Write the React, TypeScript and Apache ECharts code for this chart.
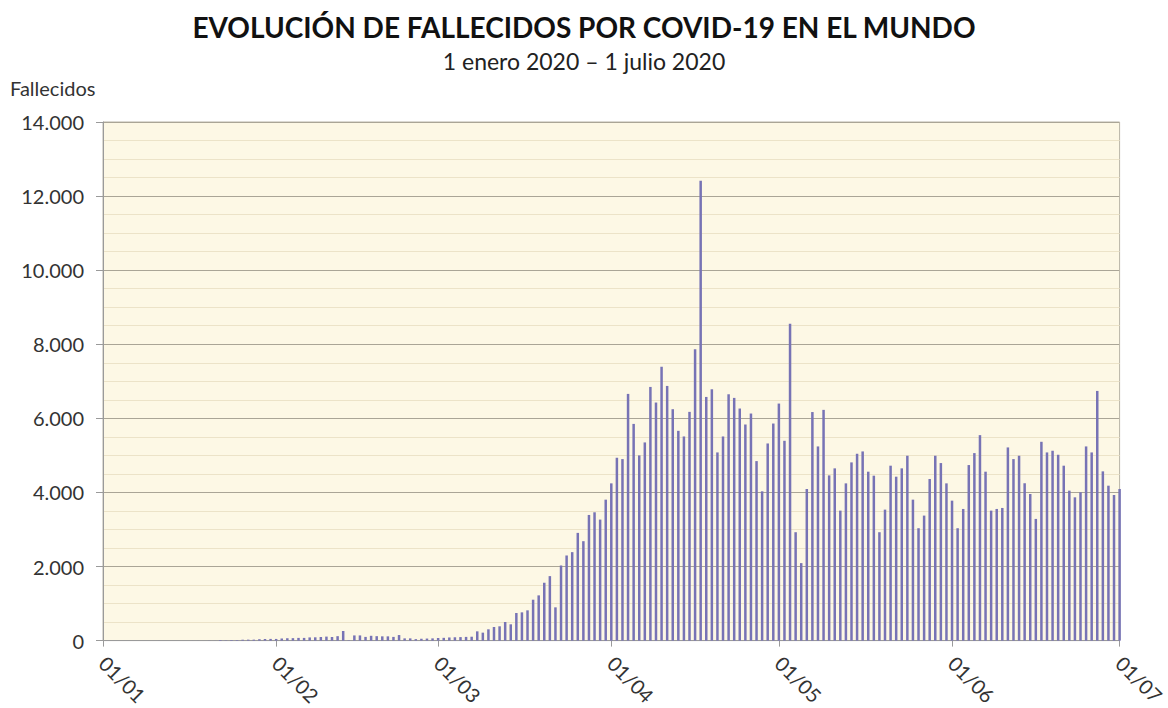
import React, { useEffect, useRef } from 'react';
import * as echarts from 'echarts';

const TITLE = 'EVOLUCIÓN DE FALLECIDOS POR COVID-19 EN EL MUNDO';
const SUBTITLE = '1 enero 2020 – 1 julio 2020';
const Y_NAME = 'Fallecidos';
const MONTH_LENGTHS = [31, 29, 31, 30, 31, 30, 1];
const Y_TICKS_MAJOR = 2000;
const Y_TICKS_MINOR = 500;
const Y_MAX = 14000;

const jan = [0, 0, 0, 0, 0, 0, 0, 0, 0, 0, 1, 0, 0, 0, 0, 0, 1, 1, 0, 3, 1, 17, 8, 16, 15, 24, 26, 26, 38, 43, 46];
const feb = [45, 57, 64, 66, 73, 73, 86, 89, 97, 108, 97, 120, 260, 10, 140, 140, 100, 130, 120, 115, 115, 100, 150, 60, 60, 40, 50, 55, 60];
const mar = [70, 75, 85, 90, 95, 100, 105, 250, 215, 305, 368, 386, 503, 440, 745, 763, 817, 1104, 1221, 1562, 1741, 898, 2028, 2298, 2388, 2908, 2684, 3392, 3464, 3267, 3805];
const apr = [4245, 4936, 4900, 6660, 5850, 5000, 5350, 6848, 6427, 7396, 6875, 6247, 5663, 5511, 6175, 7862, 12412, 6578, 6785, 5080, 5511, 6650, 6552, 6265, 5834, 6130, 4846, 4030, 5322, 5860];
const may = [6399, 5394, 8553, 2926, 2092, 4093, 6170, 5242, 6229, 4460, 4650, 3509, 4245, 4811, 5044, 5107, 4560, 4452, 2926, 3536, 4722, 4425, 4650, 4991, 3805, 3034, 3375, 4362, 4991, 4793, 4245];
const jun = [3778, 3034, 3554, 4739, 5062, 5547, 4560, 3509, 3554, 3581, 5215, 4900, 4991, 4245, 3958, 3285, 5367, 5080, 5125, 5017, 4722, 4048, 3868, 4004, 5242, 5080, 6740, 4569, 4182, 3931];
const jul = [4093];

const pad = (n: number) => (n < 10 ? '0' + n : String(n));
const categories: string[] = [];
MONTH_LENGTHS.forEach((len, m) => {
  for (let d = 1; d <= len; d++) categories.push(pad(d) + '/' + pad(m + 1));
});
const values = [...jan, ...feb, ...mar, ...apr, ...may, ...jun, ...jul];

const fmt = (v: number) => String(v).replace(/\B(?=(\d{3})+(?!\d))/g, '.');
const isMonthStart = (_i: number, v: string) => v.startsWith('01/');

export default function App() {
  const ref = useRef<HTMLDivElement>(null);
  useEffect(() => {
    if (!ref.current) return;
    const chart = echarts.init(ref.current, undefined, { renderer: 'svg' });
    const font = 'Lato, "Open Sans", sans-serif';
    chart.setOption({
      animation: false,
      title: [
        {
          text: TITLE,
          left: 'center',
          top: 8,
          textStyle: { fontFamily: font, fontWeight: 'bold', fontSize: 28, color: '#111' },
        },
        {
          text: SUBTITLE,
          left: 'center',
          top: 44,
          textStyle: { fontFamily: font, fontWeight: 'normal', fontSize: 23, color: '#222' },
        },
      ],
      graphic: [
        {
          type: 'text',
          left: 10,
          top: 78,
          style: { text: Y_NAME, fontFamily: font, fontSize: 20, fill: '#333' },
        },
      ],
      grid: {
        left: 103,
        right: 48,
        top: 122,
        bottom: 66,
        show: true,
        backgroundColor: '#fdf8e5',
        borderColor: '#b9b4a6',
        borderWidth: 1,
      },
      xAxis: {
        type: 'category',
        data: categories,
        boundaryGap: false,
        axisLine: { lineStyle: { color: '#9a9a9a', width: 1 } },
        axisTick: { interval: isMonthStart, length: 6, lineStyle: { color: '#9a9a9a' } },
        axisLabel: {
          interval: isMonthStart,
          rotate: -45,
          margin: 19,
          fontFamily: font,
          fontSize: 20,
          color: '#333',
        },
        splitLine: { show: false },
      },
      yAxis: [
        {
          type: 'value',
          min: 0,
          max: Y_MAX,
          interval: Y_TICKS_MINOR,
          axisLabel: { show: false },
          axisLine: { show: false },
          axisTick: { show: false },
          splitLine: { lineStyle: { color: '#ece3c8', width: 1 } },
        },
        {
          type: 'value',
          min: 0,
          max: Y_MAX,
          interval: Y_TICKS_MAJOR,
          position: 'left',
          axisLine: { show: true, lineStyle: { color: '#9a9a9a', width: 1 } },
          axisTick: { show: true, length: 7, lineStyle: { color: '#9a9a9a' } },
          axisLabel: { formatter: fmt, fontFamily: font, fontSize: 20, color: '#333', margin: 19 },
          splitLine: { lineStyle: { color: '#aaa596', width: 1 } },
        },
      ],
      series: [
        {
          type: 'bar',
          data: values,
          yAxisIndex: 1,
          barWidth: 2.5,
          itemStyle: { color: '#7773b5' },
          clip: false,
        },
      ],
    });
    return () => chart.dispose();
  }, []);
  return (
    <div
      ref={ref}
      style={{ position: 'fixed', left: 0, top: 0, width: 1168, height: 708, background: '#fff' }}
    />
  );
}
